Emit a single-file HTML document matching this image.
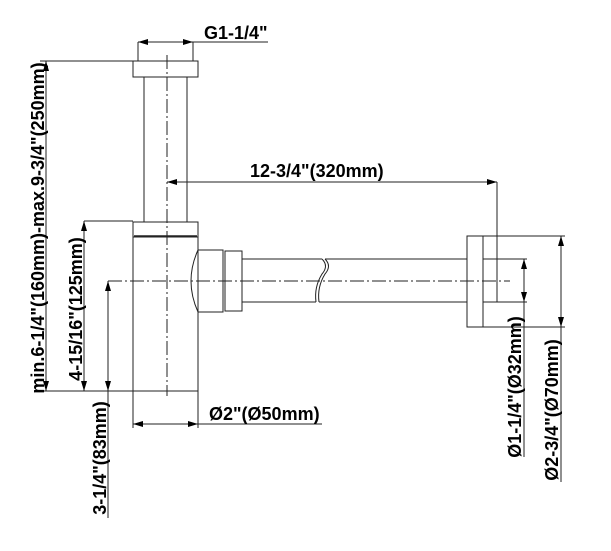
<!DOCTYPE html>
<html><head><style>
html,body{margin:0;padding:0;background:#fff;}
svg{display:block;}
text{font-family:"Liberation Sans",Arial,sans-serif;font-weight:bold;font-size:18px;fill:#000;}
</style></head><body>
<svg width="611" height="551" viewBox="0 0 611 551" xmlns="http://www.w3.org/2000/svg">
<defs>
<marker id="a" viewBox="0 0 10 6" refX="10" refY="3" markerWidth="10" markerHeight="6" orient="auto-start-reverse" markerUnits="userSpaceOnUse"><path d="M0,0 L10,3 L0,6 Z" fill="#000"/></marker>
</defs>
<g fill="none" stroke="#222" stroke-width="1">
<rect x="133" y="61" width="65" height="16"/>
<line x1="144" y1="77" x2="144" y2="222"/>
<line x1="187" y1="77" x2="187" y2="222"/>
<rect x="133" y="222" width="65" height="15"/>
<line x1="134" y1="236" x2="197" y2="236" stroke-width="1.6"/>
<rect x="133" y="237" width="65" height="154"/>
<path d="M198,250 L223,250 L223,312 L198,312 Q184,281 198,250 Z"/>
<line x1="225" y1="251" x2="225" y2="311"/>
<rect x="225" y="251" width="17" height="60"/>
<line x1="242" y1="259" x2="322" y2="259"/>
<line x1="242" y1="302" x2="316" y2="302"/>
<path d="M322,259 Q329,266 322,274 Q314,287 316,302"/>
<path d="M325,259 Q332,266 325,274 Q317,287 319,302"/>
<line x1="325" y1="259" x2="467" y2="259"/>
<line x1="319" y1="302" x2="467" y2="302"/>
<rect x="467" y="236" width="16" height="91"/>
<line x1="483" y1="236" x2="565" y2="236"/>
<line x1="483" y1="327" x2="565" y2="327"/>
<line x1="483" y1="259" x2="527" y2="259"/>
<line x1="483" y1="302" x2="527" y2="302"/>
<line x1="167" y1="55" x2="167" y2="396" stroke-dasharray="14,3,2,3"/>
<line x1="108" y1="281" x2="510" y2="281" stroke-dasharray="14,3,2,3"/>
<line x1="138" y1="42" x2="138" y2="61"/>
<line x1="193" y1="42" x2="193" y2="61"/>
<line x1="138" y1="42" x2="193" y2="42" marker-start="url(#a)" marker-end="url(#a)"/>
<line x1="193" y1="42" x2="268" y2="42"/>
<line x1="167" y1="182" x2="497" y2="182" marker-start="url(#a)" marker-end="url(#a)"/>
<line x1="497" y1="182" x2="497" y2="302"/>
<line x1="40" y1="61" x2="133" y2="61"/>
<line x1="46" y1="61" x2="46" y2="391" marker-start="url(#a)" marker-end="url(#a)"/>
<line x1="40" y1="391" x2="133" y2="391"/>
<line x1="84" y1="221" x2="133" y2="221"/>
<line x1="84" y1="221" x2="84" y2="391" marker-start="url(#a)" marker-end="url(#a)"/>
<line x1="108" y1="281" x2="108" y2="391" marker-start="url(#a)" marker-end="url(#a)"/>
<line x1="108" y1="391" x2="108" y2="518"/>
<line x1="133" y1="391" x2="133" y2="428"/>
<line x1="198" y1="391" x2="198" y2="428"/>
<line x1="133" y1="424" x2="198" y2="424" marker-start="url(#a)" marker-end="url(#a)"/>
<line x1="198" y1="424" x2="322" y2="424"/>
<line x1="524" y1="259" x2="524" y2="302" marker-start="url(#a)" marker-end="url(#a)"/>
<line x1="524" y1="302" x2="524" y2="457"/>
<line x1="561" y1="236" x2="561" y2="327" marker-start="url(#a)" marker-end="url(#a)"/>
<line x1="561" y1="327" x2="561" y2="482"/>
</g>
<text x="204" y="39">G1-1/4"</text>
<text x="250" y="177">12-3/4"(320mm)</text>
<text x="209" y="420">Ø2"(Ø50mm)</text>
<text transform="translate(44,228) rotate(-90)" text-anchor="middle">min.6-1/4"(160mm)-max.9-3/4"(250mm)</text>
<text transform="translate(82,309) rotate(-90)" text-anchor="middle">4-15/16"(125mm)</text>
<text transform="translate(106,458) rotate(-90)" text-anchor="middle">3-1/4"(83mm)</text>
<text transform="translate(521,387) rotate(-90)" text-anchor="middle">Ø1-1/4"(Ø32mm)</text>
<text transform="translate(558,410) rotate(-90)" text-anchor="middle">Ø2-3/4"(Ø70mm)</text>
</svg>
</body></html>
